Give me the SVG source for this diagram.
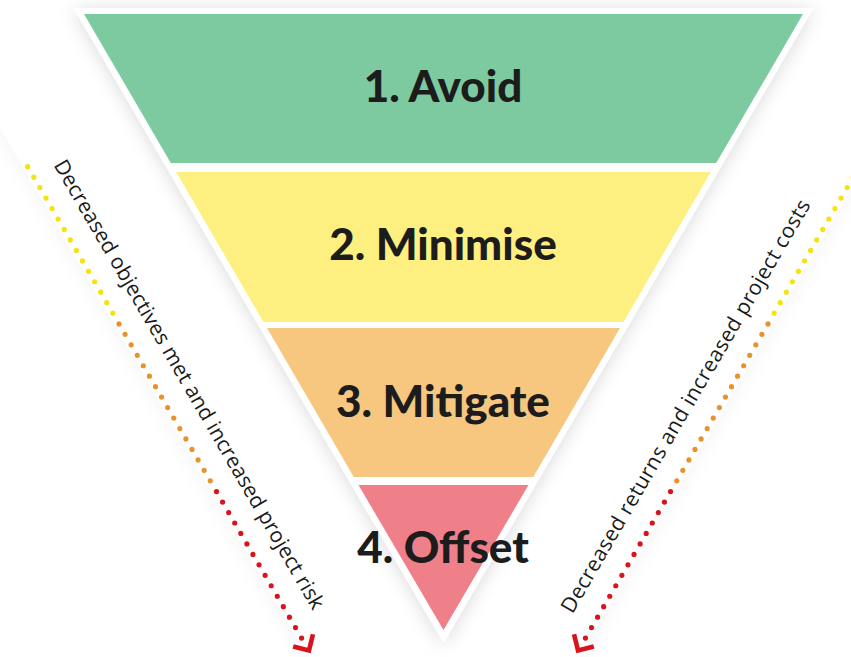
<svg xmlns="http://www.w3.org/2000/svg" width="851" height="657" viewBox="0 0 851 657">
  <defs>
    <filter id="shadow" x="-20%" y="-20%" width="140%" height="140%">
      <feGaussianBlur in="SourceAlpha" stdDeviation="9"/>
      <feOffset dx="0" dy="2" result="b"/>
      <feFlood flood-color="#000" flood-opacity="0.15"/>
      <feComposite in2="b" operator="in"/>
      <feMerge><feMergeNode/><feMergeNode in="SourceGraphic"/></feMerge>
    </filter>
    <filter id="shadowOuter" x="-20%" y="-20%" width="140%" height="140%">
      <feGaussianBlur in="SourceAlpha" stdDeviation="10" result="bb"/>
      <feFlood flood-color="#000" flood-opacity="0.05"/>
      <feComposite in2="bb" operator="in"/>
      <feMerge><feMergeNode/><feMergeNode in="SourceGraphic"/></feMerge>
    </filter>
    <linearGradient id="topShade" x1="0" y1="0" x2="0" y2="1">
      <stop offset="0" stop-color="#e8e8e8"/>
      <stop offset="1" stop-color="#ffffff" stop-opacity="0"/>
    </linearGradient>
    <style>
      .label { font-family: Lato, "Open Sans", "Liberation Sans", sans-serif; font-weight: 900; font-size: 44px; fill: #1c1c1c; text-anchor: middle; }
      .side { font-family: "Open Sans", "Liberation Sans", sans-serif; font-size: 21px; fill: #1a1a1a; }
      .dots { fill: none; stroke-width: 5.2; stroke-linecap: round; stroke-dasharray: 0 12.1; }
      .y { stroke: #f6e20e; }
      .o { stroke: #e8922c; }
      .r { stroke: #d9131c; }
      .head { fill: none; stroke: #d9131c; stroke-width: 4.6; stroke-linecap: butt; stroke-linejoin: miter; }
    </style>
  </defs>

  <rect x="0" y="0" width="851" height="657" fill="#ffffff"/>
  <rect x="0" y="0" width="851" height="16" fill="url(#topShade)"/>

  <!-- outer white V carrying the side labels -->
  <polygon points="-109,-60 996,-60 443.5,890" fill="#ffffff" filter="url(#shadowOuter)"/>

  <!-- white triangle frame -->
  <polygon id="frame" points="73.5,8 813.5,8 443.5,643" fill="#ffffff" filter="url(#shadow)"/>

  <g id="node-avoid">
    <polygon points="84,14 803,14 716.2,163 170.8,163" fill="#7ecaa0"/>
    <text class="label" x="443" y="102">1. Avoid</text>
  </g>
  <g id="node-minimise">
    <polygon points="176.1,172 710.9,172 623.5,322 263.5,322" fill="#fef080"/>
    <text class="label" x="443" y="260">2. Minimise</text>
  </g>
  <g id="node-mitigate">
    <polygon points="267,328 620,328 533.2,477 353.8,477" fill="#f7c780"/>
    <text class="label" x="443" y="417">3. Mitigate</text>
  </g>
  <g id="node-offset">
    <polygon points="358.5,485 528.5,485 443.5,630" fill="#ef7f89"/>
    <text class="label" x="443" y="563">4. Offset</text>
  </g>

  <g id="connectors">
    <g id="left-arrow">
      <path class="dots y" d="M27.7,166.7 L113,313.4"/>
      <path class="dots o" d="M119,323.9 L210.4,481.1"/>
      <path class="dots r" d="M216.5,491.6 L301.7,638.3"/>
      <polyline class="head" points="313,634.3 309,650.4 293.2,646.4"/>
    </g>
    <g id="right-arrow">
      <path class="dots y" d="M859.3,166.7 L774,313.4"/>
      <path class="dots o" d="M768,323.9 L676.6,481.1"/>
      <path class="dots r" d="M670.5,491.6 L585.3,638.3"/>
      <polyline class="head" points="574,634.3 578,650.4 593.8,646.4"/>
    </g>
  </g>

  <g id="side-labels">
    <text class="side" transform="translate(53.3,165) rotate(59.8)" textLength="516" lengthAdjust="spacing">Decreased objectives met and increased project risk</text>
    <text class="side" transform="translate(572.5,614.4) rotate(-59.8)" textLength="474" lengthAdjust="spacing">Decreased returns and increased project costs</text>
  </g>
</svg>
